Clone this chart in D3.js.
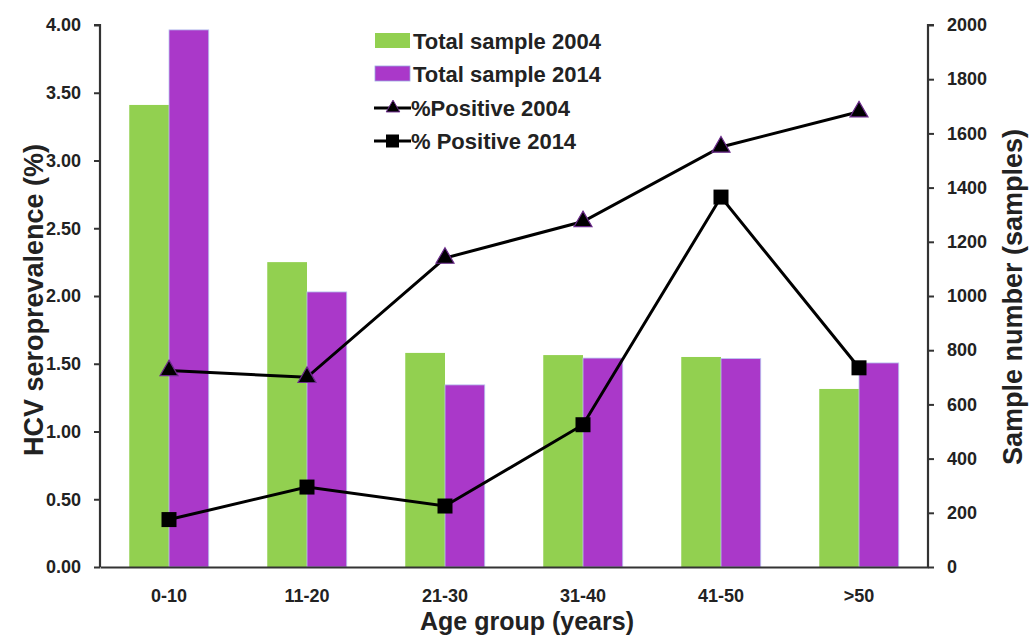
<!DOCTYPE html>
<html><head><meta charset="utf-8">
<script src="https://cdn.jsdelivr.net/npm/d3@7"></script>
<style>body{margin:0;background:#fff}svg{display:block}text{font-family:"Liberation Sans",Arial,sans-serif;font-weight:bold;fill:#222}</style>
</head><body><svg id="c" width="1034" height="638"></svg>
<script>
const categories = ["0-10","11-20","21-30","31-40","41-50",">50"];
const sample2004 = [1705,1125,790,782,775,657];
const sample2014 = [1982,1015,672,771,769,753];
const pos2004 = [1.45,1.40,2.28,2.55,3.10,3.36];
const pos2014 = [0.35,0.59,0.45,1.05,2.73,1.47];
const leftTicks = [0,0.5,1,1.5,2,2.5,3,3.5,4];
const rightTicks = [0,200,400,600,800,1000,1200,1400,1600,1800,2000];
const legendLabels = ["Total sample 2004","Total sample 2014","%Positive 2004","% Positive 2014"];

const svg = d3.select("#c");
const L=100, R=928, T=25, B=567;
const x = d3.scaleBand().domain(categories).range([L,R]);
const yL = d3.scaleLinear().domain([0,4]).range([B,T]);
const yR = d3.scaleLinear().domain([0,2000]).range([B,T]);
const bw = x.bandwidth()*0.288;
const cx = c => x(c)+x.bandwidth()/2;
const green="#92d050", purple="#aa38c9";

// bars
svg.append("g").selectAll("rect").data(categories).join("rect")
  .attr("x",c=>cx(c)-bw).attr("width",bw)
  .attr("y",(c,i)=>yR(sample2004[i])).attr("height",(c,i)=>B-yR(sample2004[i]))
  .attr("fill",green);
svg.append("g").selectAll("rect").data(categories).join("rect")
  .attr("x",c=>cx(c)).attr("width",bw)
  .attr("y",(c,i)=>yR(sample2014[i])).attr("height",(c,i)=>B-yR(sample2014[i]))
  .attr("fill",purple).attr("stroke","#b8c8f0").attr("stroke-width",0.8);

// axes
const axL = d3.axisLeft(yL).tickValues(leftTicks).tickFormat(d3.format(".2f")).tickSize(6).tickPadding(13);
const gL = svg.append("g").attr("transform",`translate(${L},0)`).call(axL);
const axR = d3.axisRight(yR).tickValues(rightTicks).tickFormat(d3.format("d")).tickSize(6).tickPadding(13);
const gR = svg.append("g").attr("transform",`translate(${R},0)`).call(axR);
const axB = d3.axisBottom(x).tickSize(0).tickPadding(22);
const gB = svg.append("g").attr("transform",`translate(0,${B})`).call(axB);
[gL,gR,gB].forEach(g=>{
  g.selectAll(".domain").attr("stroke","#333").attr("stroke-width",2.2);
  g.selectAll(".tick line").attr("stroke","#333").attr("stroke-width",2);
  g.selectAll("text").style("font-size","18px").style("font-weight","bold").attr("fill","#222").style("font-family","'Liberation Sans',Arial,sans-serif");
});
gB.selectAll("text").style("font-family","'Liberation Sans Narrow','Liberation Sans',Arial,sans-serif").style("font-size","18px");
gL.select(".domain").attr("d",`M-6,${T}H0V${B}`);
gR.select(".domain").attr("d",`M6,${T}H0V${B}`);

// lines
const line = d3.line().x((d,i)=>cx(categories[i]));
svg.append("path").attr("d",line.y(d=>yL(d))(pos2004)).attr("fill","none").attr("stroke","#000").attr("stroke-width",3);
svg.append("path").attr("d",line.y(d=>yL(d))(pos2014)).attr("fill","none").attr("stroke","#000").attr("stroke-width",3);
const tri = d3.symbol().type(d3.symbolTriangle).size(140);
svg.append("g").selectAll("path").data(pos2004).join("path")
  .attr("d",tri).attr("transform",(d,i)=>`translate(${cx(categories[i])},${yL(d)})`)
  .attr("fill","#000").attr("stroke","#6a2a8a").attr("stroke-width",1.2);
svg.append("g").selectAll("rect").data(pos2014).join("rect")
  .attr("x",(d,i)=>cx(categories[i])-7.5).attr("y",d=>yL(d)-7.5).attr("width",15).attr("height",15).attr("fill","#000");

// titles
svg.append("text").attr("transform","translate(43,300) rotate(-90)").attr("text-anchor","middle").style("font-size","27px").text("HCV seroprevalence (%)");
svg.append("text").attr("transform","translate(1022,297) rotate(-90)").attr("text-anchor","middle").style("font-size","27px").text("Sample number (samples)");
svg.append("text").attr("x",527).attr("y",630).attr("text-anchor","middle").style("font-size","25px").text("Age group (years)");

// legend
const lg = svg.append("g");
const rows=[41,74,108,141];
lg.append("rect").attr("x",375).attr("y",rows[0]-8).attr("width",35).attr("height",15).attr("fill",green);
lg.append("rect").attr("x",375).attr("y",rows[1]-8).attr("width",35).attr("height",15).attr("fill",purple).attr("stroke","#9aa8e0").attr("stroke-width",0.8);
[2,3].forEach(k=>lg.append("line").attr("x1",374).attr("x2",411).attr("y1",rows[k]).attr("y2",rows[k]).attr("stroke","#000").attr("stroke-width",3));
lg.append("path").attr("d",d3.symbol().type(d3.symbolTriangle).size(80)).attr("transform",`translate(393,${rows[2]})`).attr("fill","#000").attr("stroke","#6a2a8a");
lg.append("rect").attr("x",386).attr("y",rows[3]-6.5).attr("width",13).attr("height",13).attr("fill","#000");
lg.selectAll("text").data(legendLabels).join("text").attr("x",(d,i)=>i<2?413:411).attr("y",(d,i)=>rows[i]+8).style("font-size","22px").text(d=>d);
</script></body></html>
